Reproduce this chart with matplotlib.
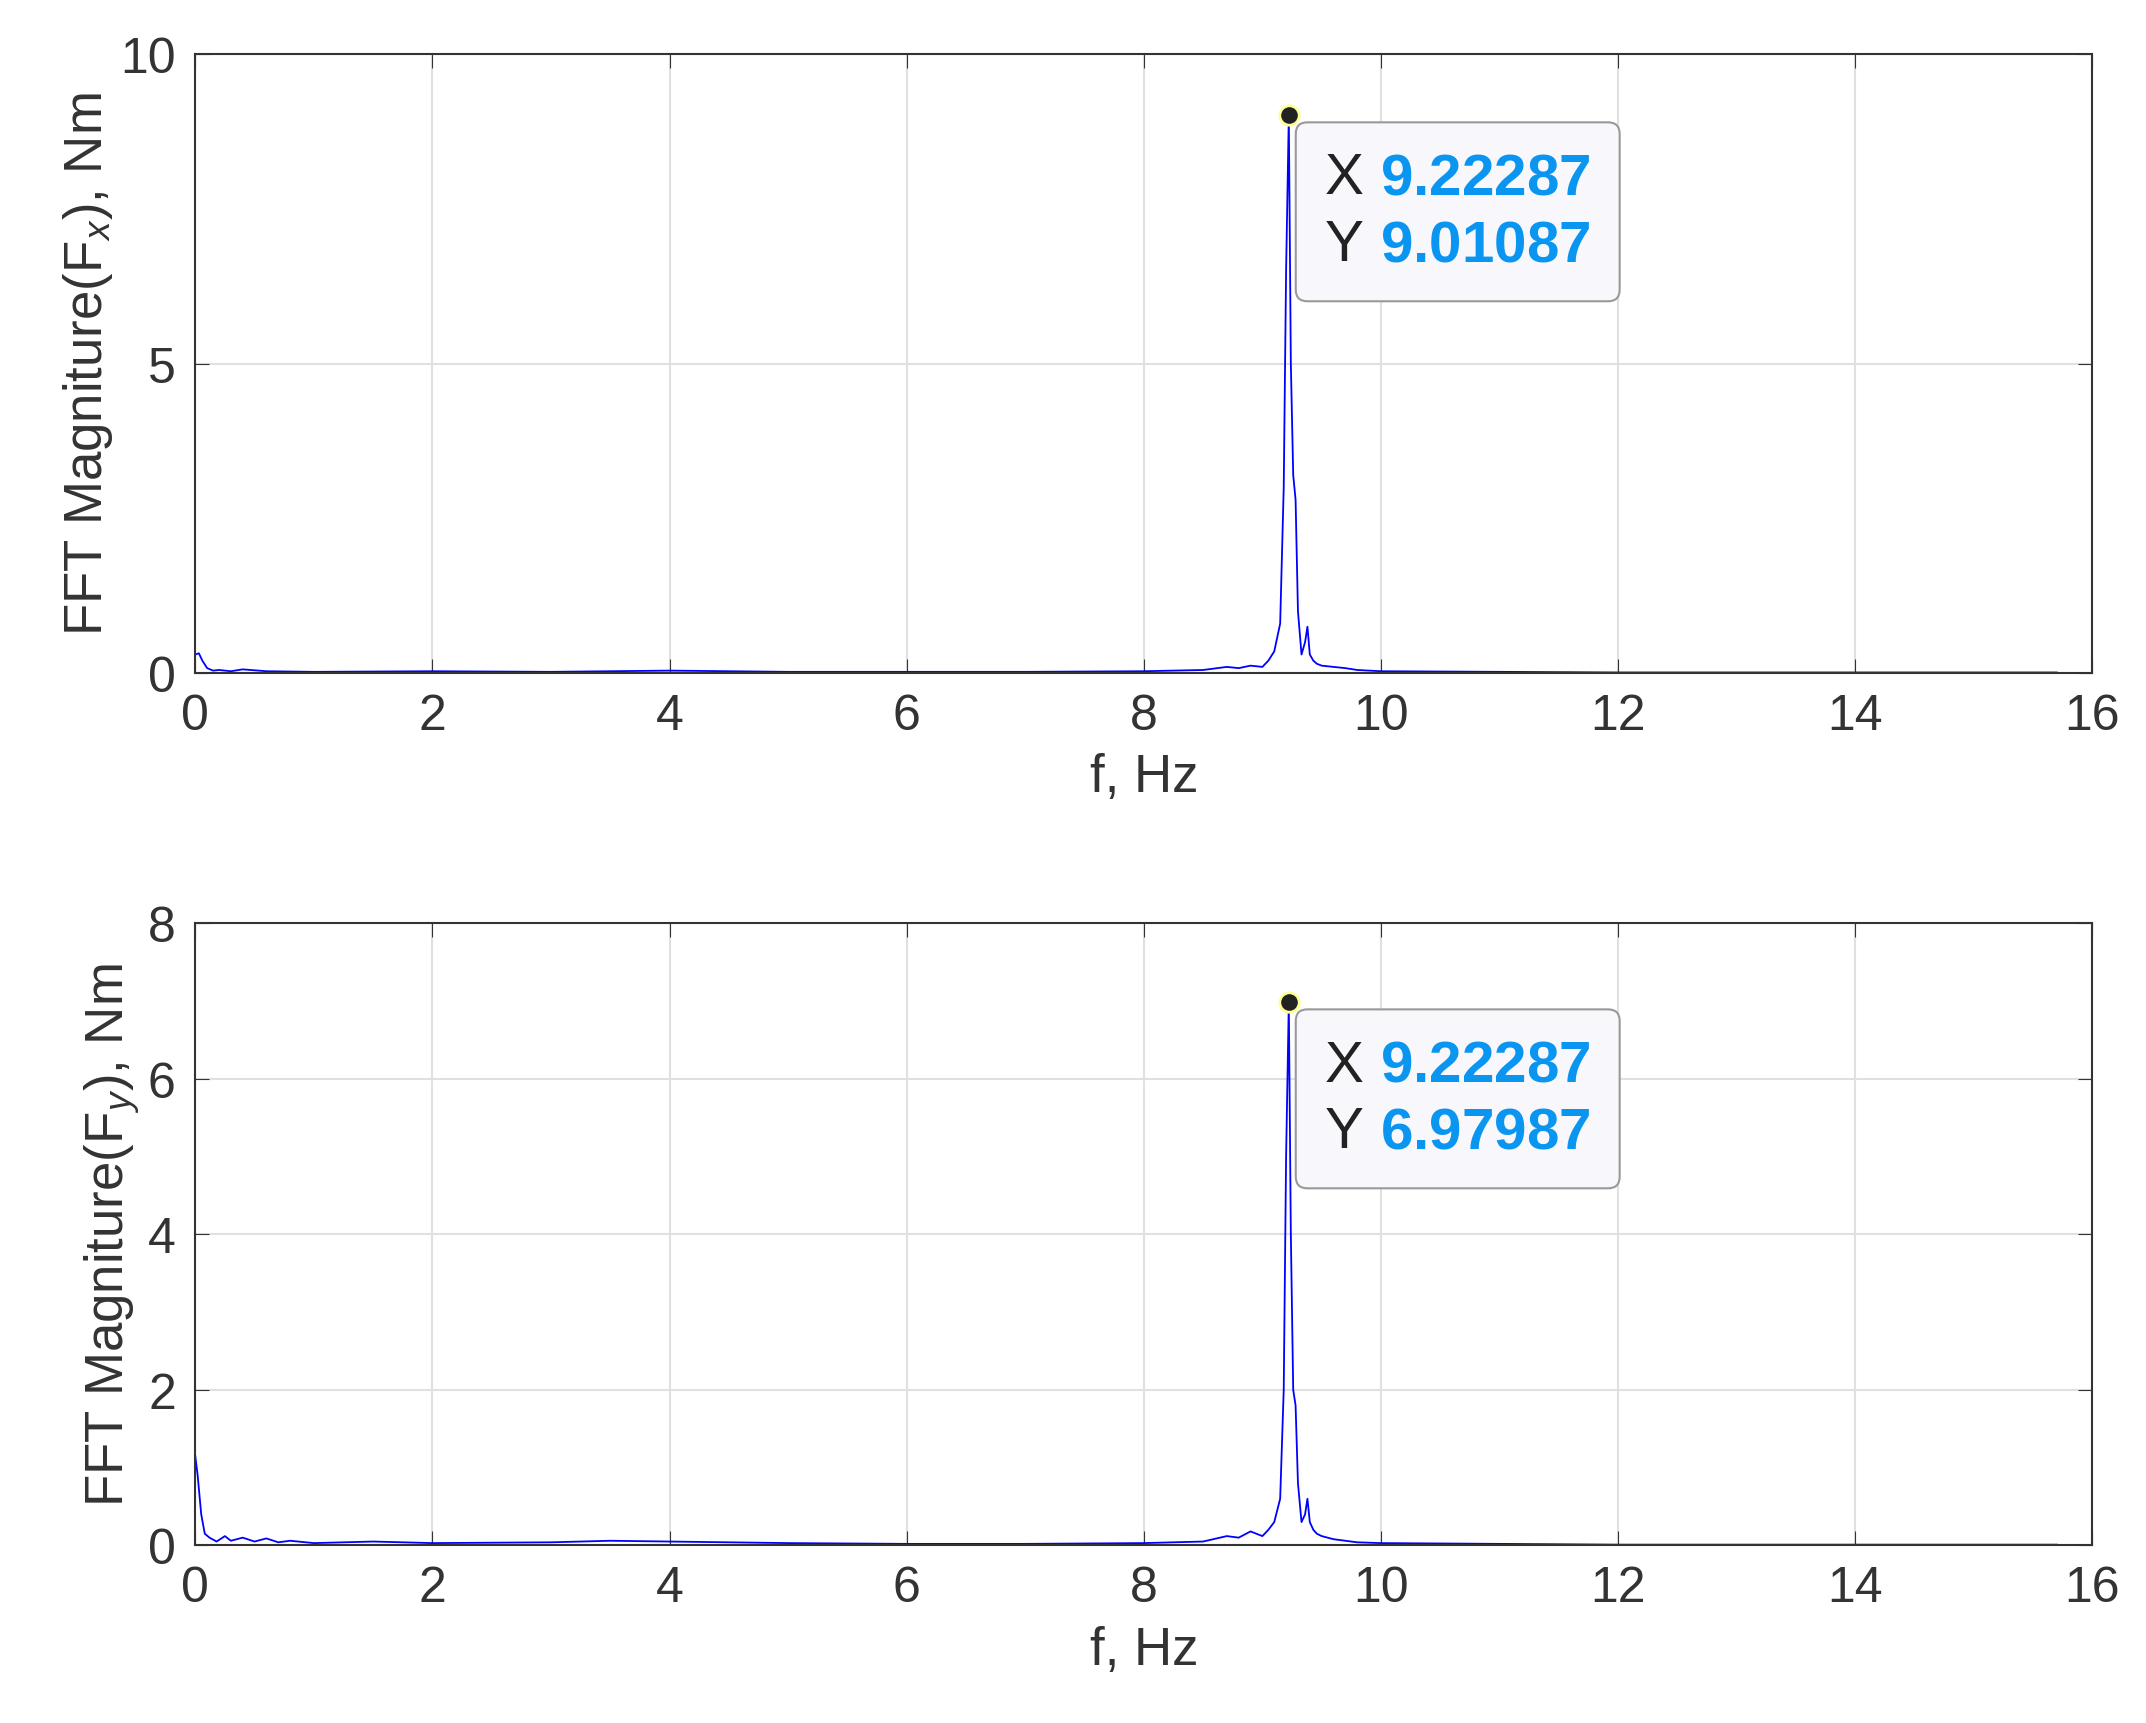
import matplotlib
matplotlib.use("Agg")
import matplotlib.pyplot as plt

fx_f = [0, 0.03, 0.06, 0.1, 0.15, 0.2, 0.3, 0.4, 0.6, 1.0, 2.0, 3.0, 4.0, 5.0, 6.0, 7.0, 8.0, 8.5, 8.7, 8.8, 8.9, 9.0, 9.05, 9.1, 9.15, 9.18, 9.2, 9.22287, 9.24, 9.26, 9.28, 9.3, 9.33, 9.36, 9.38, 9.4, 9.43, 9.46, 9.5, 9.6, 9.7, 9.8, 10.0, 11, 12, 13, 14, 15, 15.7]
fx_m = [0.3, 0.32, 0.2, 0.08, 0.04, 0.05, 0.03, 0.06, 0.03, 0.02, 0.03, 0.02, 0.04, 0.02, 0.02, 0.02, 0.03, 0.05, 0.1, 0.08, 0.12, 0.1, 0.2, 0.35, 0.8, 3.0, 6.5, 9.01087, 5.0, 3.2, 2.8, 1.0, 0.3, 0.5, 0.75, 0.3, 0.2, 0.15, 0.12, 0.1, 0.08, 0.05, 0.03, 0.02, 0.01, 0.01, 0.01, 0.01, 0.01]
fy_f = [0, 0.02, 0.05, 0.08, 0.12, 0.18, 0.25, 0.3, 0.4, 0.5, 0.6, 0.7, 0.8, 1.0, 1.5, 2.0, 3.0, 3.5, 4.0, 5.0, 6.0, 7.0, 8.0, 8.5, 8.7, 8.8, 8.9, 9.0, 9.05, 9.1, 9.15, 9.18, 9.2, 9.22287, 9.24, 9.26, 9.28, 9.3, 9.33, 9.36, 9.38, 9.4, 9.43, 9.46, 9.5, 9.6, 9.7, 9.8, 10.0, 11, 12, 13, 14, 15, 15.7]
fy_m = [1.15, 0.9, 0.4, 0.15, 0.1, 0.05, 0.12, 0.06, 0.1, 0.05, 0.09, 0.04, 0.06, 0.03, 0.05, 0.03, 0.04, 0.06, 0.05, 0.03, 0.02, 0.02, 0.03, 0.05, 0.12, 0.1, 0.18, 0.12, 0.2, 0.3, 0.6, 2.0, 5.0, 6.97987, 4.0, 2.0, 1.8, 0.8, 0.3, 0.4, 0.6, 0.3, 0.2, 0.15, 0.12, 0.08, 0.06, 0.04, 0.03, 0.02, 0.01, 0.01, 0.01, 0.01, 0.01]

peak_x = [9.22287, 9.22287]
peak_y = [9.01087, 6.97987]
ylims = [10, 8]
yticks = [[0, 5, 10], [0, 2, 4, 6, 8]]
ylabels = ["FFT Magniture(F$_x$), Nm", "FFT Magniture(F$_y$), Nm"]
xticks = list(range(0, 17, 2))

plt.rcParams['font.family'] = ['Liberation Sans', 'DejaVu Sans']
plt.rcParams['mathtext.fontset'] = 'custom'
plt.rcParams['mathtext.rm'] = 'Liberation Sans'
plt.rcParams['mathtext.it'] = 'Liberation Sans:italic'
plt.rcParams['mathtext.bf'] = 'Liberation Sans:bold'
fig = plt.figure(figsize=(21.46, 17.24), dpi=100)
rects = [[0.091, 0.609, 0.884, 0.359], [0.091, 0.103, 0.884, 0.361]]
for i, (f, m) in enumerate([(fx_f, fx_m), (fy_f, fy_m)]):
    ax = fig.add_axes(rects[i])
    ax.plot(f, m, color='#0000ff', lw=1.3)
    ax.set_xlim(0, 16)
    ax.set_ylim(0, ylims[i])
    ax.set_xticks(xticks)
    ax.set_yticks(yticks[i])
    ax.grid(True, color='#e0e0e0', lw=1.5)
    ax.tick_params(labelsize=36, direction='in', length=10, pad=14, top=True, right=True, color='#333333', labelcolor='#333333')
    for s in ax.spines.values():
        s.set_color('#333333'); s.set_linewidth(1.5)
    ax.set_xlabel("f, Hz", fontsize=38, color='#333333', labelpad=10)
    ax.set_ylabel(ylabels[i], fontsize=38, color='#333333')
    ax.plot(peak_x[i], peak_y[i], 'o', ms=14, mfc='#222222', mec='#ffff99', mew=2, zorder=7)
    full = f"X $\\bf{{{peak_x[i]:.5f}}}$\nY $\\bf{{{peak_y[i]:.5f}}}$"
    kw = dict(xy=(peak_x[i], peak_y[i]), xytext=(26, -26), textcoords='offset points',
              va='top', ha='left', fontsize=42, linespacing=1.3)
    ax.annotate(full, color='#0a96f0',
                bbox=dict(boxstyle='round,pad=0.5,rounding_size=0.2', fc='#f8f8fc', ec='#999999', lw=1.5),
                zorder=6, **kw)
    ax.annotate("X\nY", color='#222222', zorder=6.5,
                bbox=dict(boxstyle='square,pad=0.05', fc='#f8f8fc', ec='none'), **kw)
fig.savefig("out.png", dpi=100)
